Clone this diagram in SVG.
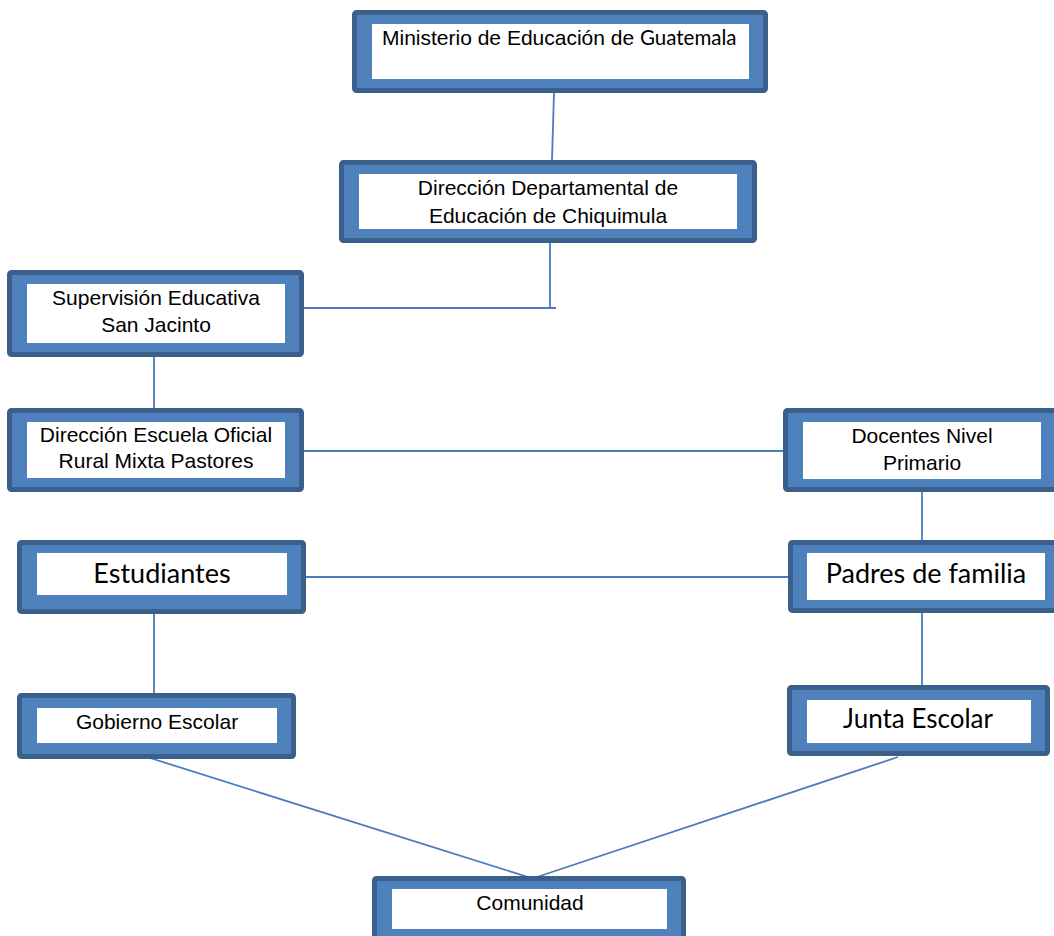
<svg xmlns="http://www.w3.org/2000/svg" width="1054" height="936" viewBox="0 0 1054 936">
<style>
.frame{fill:#4f81bd;stroke:#3a5f8b;stroke-width:5}
.inner{fill:#ffffff}
.con{fill:none;stroke:#4a7ebb;stroke-width:1.8}
.a{font-family:"Liberation Sans",Arial,sans-serif;font-size:21px;fill:#000;text-anchor:middle}
.c{font-family:Lato,"Liberation Sans",sans-serif;fill:#000;text-anchor:middle}
</style>
<rect width="1054" height="936" fill="#ffffff"/>
<g id="connectors">
<line class="con" x1="554" y1="92" x2="552" y2="160"/>
<polyline class="con" points="550,243 550,308"/>
<line class="con" x1="303" y1="308" x2="556" y2="308"/>
<line class="con" x1="154" y1="357" x2="154" y2="408"/>
<line class="con" x1="304" y1="451" x2="783" y2="451"/>
<line class="con" x1="922" y1="492" x2="922" y2="540"/>
<line class="con" x1="306" y1="577" x2="788" y2="577"/>
<line class="con" x1="154" y1="614" x2="154" y2="693"/>
<line class="con" x1="922" y1="613" x2="922" y2="685"/>
<line class="con" x1="147" y1="757" x2="528" y2="877"/>
<line class="con" x1="898" y1="757" x2="537" y2="877"/>
</g>
<g id="n1">
<rect class="frame" x="354.5" y="12.5" width="411" height="78" rx="2"/>
<rect class="inner" x="372" y="24" width="377" height="55"/>
<text x="382" y="45" font-family="Liberation Sans,Arial,sans-serif" font-size="21" fill="#000">Ministerio de Educación de <tspan font-family="Lato,sans-serif" font-size="20.5">Guatemala</tspan></text>
</g>
<g id="n2">
<rect class="frame" x="341.5" y="162.5" width="413" height="78" rx="2"/>
<rect class="inner" x="359" y="174" width="378" height="55"/>
<text class="a" x="548" y="195">Dirección Departamental de</text>
<text class="a" x="548" y="223">Educación de Chiquimula</text>
</g>
<g id="n3">
<rect class="frame" x="9.5" y="272.5" width="292" height="82" rx="2"/>
<rect class="inner" x="27" y="284" width="258" height="59"/>
<text class="a" x="156" y="305">Supervisión Educativa</text>
<text class="a" x="156" y="332">San Jacinto</text>
</g>
<g id="n4">
<rect class="frame" x="9.5" y="410.5" width="292" height="79" rx="2"/>
<rect class="inner" x="27" y="422" width="258" height="56"/>
<text class="a" x="156" y="442">Dirección Escuela Oficial</text>
<text class="a" x="156" y="468">Rural Mixta Pastores</text>
</g>
<g id="n5">
<rect class="frame" x="785.5" y="410.5" width="280" height="79" rx="2"/>
<rect class="inner" x="803" y="422" width="238" height="57"/>
<text class="a" x="922" y="443">Docentes Nivel</text>
<text class="a" x="922" y="470">Primario</text>
</g>
<g id="n6">
<rect class="frame" x="790.5" y="542.5" width="280" height="68" rx="2"/>
<rect class="inner" x="807" y="553" width="238" height="47"/>
<text class="c" x="926" y="583" font-size="27">Padres de familia</text>
</g>
<g id="n7">
<rect class="frame" x="19.5" y="542.5" width="284" height="69" rx="2"/>
<rect class="inner" x="37" y="553" width="250" height="42"/>
<text class="c" x="162" y="583" font-size="27">Estudiantes</text>
</g>
<g id="n8">
<rect class="frame" x="19.5" y="695.5" width="274" height="61" rx="2"/>
<rect class="inner" x="37" y="708" width="240" height="35"/>
<text class="a" x="157" y="729">Gobierno Escolar</text>
</g>
<g id="n9">
<rect class="frame" x="789.5" y="687.5" width="258" height="66" rx="2"/>
<rect class="inner" x="807" y="700" width="224" height="43"/>
<text class="c" x="918" y="728" font-size="26">Junta Escolar</text>
</g>
<g id="n10">
<rect class="frame" x="374.5" y="878.5" width="309" height="80" rx="2"/>
<rect class="inner" x="392" y="889" width="275" height="40"/>
<text class="a" x="530" y="910">Comunidad</text>
</g>
</svg>
